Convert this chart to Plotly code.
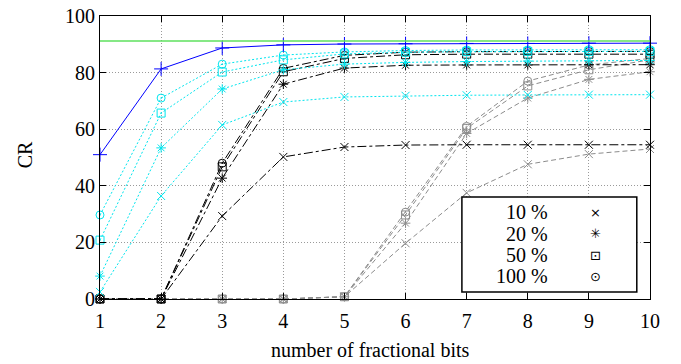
import plotly.graph_objects as go

bits = [1, 2, 3, 4, 5, 6, 7, 8, 9, 10]

green_ref = [91.2, 91.2, 91.2, 91.2, 91.2, 91.2, 91.2, 91.2, 91.2, 91.2]
blue_vals = [51.0, 81.3, 88.7, 89.8, 90.1, 90.2, 90.3, 90.3, 90.4, 90.4]

cyan_10 = [2.5, 36.4, 61.5, 69.6, 71.4, 71.8, 72.0, 72.1, 72.2, 72.2]
cyan_20 = [8.1, 53.4, 74.2, 81.0, 83.0, 83.6, 83.9, 84.1, 84.2, 84.3]
cyan_50 = [20.8, 65.7, 80.2, 84.5, 86.6, 87.2, 87.4, 87.5, 87.5, 87.5]
cyan_100 = [29.7, 71.0, 83.0, 86.2, 87.3, 87.8, 88.0, 88.0, 88.1, 88.1]

black_10 = [0, 0, 29.3, 50.2, 53.7, 54.4, 54.5, 54.5, 54.5, 54.5]
black_20 = [0, 0, 42.7, 75.9, 81.6, 82.6, 82.7, 82.7, 82.8, 82.8]
black_50 = [0, 0, 46.7, 80.3, 85.0, 86.3, 86.5, 86.5, 86.5, 86.5]
black_100 = [0, 0, 48.0, 81.5, 86.1, 87.2, 87.4, 87.5, 87.5, 87.5]

gray_10 = [0, 0, 0, 0, 0.8, 19.7, 37.5, 47.6, 51.2, 53.0]
gray_20 = [0, 0, 0, 0, 0.8, 26.8, 58.5, 71.0, 77.6, 80.3]
gray_50 = [0, 0, 0, 0, 0.8, 29.7, 60.3, 75.3, 81.0, 84.5]
gray_100 = [0, 0, 0, 0, 0.8, 30.7, 61.0, 77.0, 82.7, 85.0]

legend_labels = ["10 %", "20 %", "50 %", "100 %"]
legend_glyphs = ["×", "✳", "⊡", "⊙"]

x_title = "number of fractional bits"
y_title = "CR"

symbols = ["x-thin-open", "asterisk-open", "square-open-dot", "circle-open-dot"]

fig = go.Figure()


def add_group(series, color, dash, size=8):
    for vals, sym in zip(series, symbols):
        fig.add_trace(go.Scatter(
            x=bits, y=vals, mode="lines+markers",
            line=dict(color=color, width=1, dash=dash),
            marker=dict(symbol=sym, size=size, color=color,
                        line=dict(color=color, width=1)),
            cliponaxis=False, showlegend=False, hoverinfo="skip"))


add_group([gray_10, gray_20, gray_50, gray_100], "#8c8c8c", "5px,3px")
add_group([black_10, black_20, black_50, black_100], "#000000", "dashdot")
add_group([cyan_10, cyan_20, cyan_50, cyan_100], "#00e5ee", "2px,2px")

fig.add_trace(go.Scatter(
    x=bits, y=blue_vals, mode="lines",
    line=dict(color="#0000ff", width=1),
    cliponaxis=False, showlegend=False, hoverinfo="skip"))
fig.add_trace(go.Scatter(
    x=bits, y=blue_vals, mode="markers",
    marker=dict(symbol="cross-thin-open", size=10, color="#0000ff",
                line=dict(color="#0000ff", width=1)),
    cliponaxis=False, showlegend=False, hoverinfo="skip"))
fig.add_trace(go.Scatter(
    x=bits, y=green_ref, mode="lines",
    line=dict(color="#5ee05e", width=1.5),
    cliponaxis=False, showlegend=False, hoverinfo="skip"))

font_family = "Liberation Serif, DejaVu Serif, serif"
FS = 20

# Manual legend box (symbols to the right of the labels, as in the original)
box_x0, box_x1, box_y0, box_y1 = 0.658, 0.976, 0.025, 0.36
fig.add_shape(type="rect", xref="paper", yref="paper",
              x0=box_x0, x1=box_x1, y0=box_y0, y1=box_y1,
              line=dict(color="black", width=1.5), fillcolor="white",
              layer="above")
row_h = (box_y1 - box_y0) / (len(legend_labels) + 0.45)
for i, (lab, gl) in enumerate(zip(legend_labels, legend_glyphs)):
    yy = box_y1 - row_h * (i + 0.72)
    fig.add_annotation(xref="paper", yref="paper", x=0.818, y=yy,
                       text=lab, showarrow=False, xanchor="right",
                       yanchor="middle",
                       font=dict(family=font_family, size=FS, color="black"))
    fig.add_annotation(xref="paper", yref="paper", x=0.9, y=yy,
                       text=gl, showarrow=False, xanchor="center",
                       yanchor="middle",
                       font=dict(family="DejaVu Sans", size=13, color="black"))

# Axis titles
fig.add_annotation(xref="paper", yref="paper", x=0.49, y=-0.18,
                   text=x_title, showarrow=False, xanchor="center",
                   yanchor="middle",
                   font=dict(family=font_family, size=FS, color="black"))
fig.add_annotation(xref="paper", yref="paper", x=-0.137, y=0.51,
                   text=y_title, showarrow=False, xanchor="center",
                   yanchor="middle", textangle=-90,
                   font=dict(family=font_family, size=FS, color="black"))

axis_common = dict(
    showline=True, linecolor="black", linewidth=1, mirror="ticks",
    ticks="inside", ticklen=6, tickcolor="black", tickwidth=1,
    showgrid=True, gridcolor="#9a9a9a", griddash="1px,2px", gridwidth=1,
    zeroline=False, automargin=False,
    tickfont=dict(family=font_family, size=FS, color="black"),
)

fig.update_layout(
    width=681, height=364,
    margin=dict(l=100, r=31, t=16, b=65),
    paper_bgcolor="white", plot_bgcolor="white",
    xaxis=dict(range=[1, 10], dtick=1, tick0=1, ticklabelstandoff=4,
               **axis_common),
    yaxis=dict(range=[0, 100], dtick=20, tick0=0, **axis_common),
)

fig.write_html("out.html")
